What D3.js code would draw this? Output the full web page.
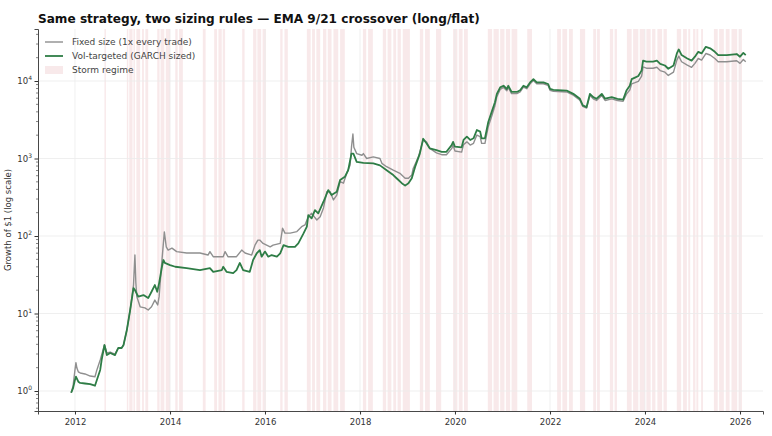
<!DOCTYPE html>
<html>
<head>
<meta charset="utf-8">
<script src="https://cdn.jsdelivr.net/npm/d3@7"></script>
<style>
  body { margin: 0; background: #fff; }
  svg { display: block; font-family: 'DejaVu Sans', sans-serif; }
</style>
</head>
<body>
<svg id="chart" width="772" height="436"></svg>
<script>
// decimal-year dates + growth of $1
const fixedDates = [2011.92, 2011.96, 2012.0, 2012.02, 2012.04, 2012.07, 2012.11, 2012.21, 2012.32, 2012.42, 2012.46, 2012.53, 2012.58, 2012.62, 2012.67, 2012.74, 2012.84, 2012.91, 2012.98, 2013.02, 2013.09, 2013.16, 2013.23, 2013.26, 2013.28, 2013.3, 2013.37, 2013.47, 2013.54, 2013.61, 2013.68, 2013.74, 2013.77, 2013.83, 2013.88, 2013.92, 2013.96, 2014.04, 2014.14, 2014.35, 2014.63, 2014.8, 2014.84, 2014.91, 2015.12, 2015.16, 2015.22, 2015.4, 2015.51, 2015.58, 2015.72, 2015.79, 2015.85, 2015.89, 2015.96, 2016.11, 2016.17, 2016.32, 2016.37, 2016.42, 2016.53, 2016.67, 2016.77, 2016.84, 2016.91, 2016.98, 2017.09, 2017.16, 2017.23, 2017.3, 2017.37, 2017.44, 2017.51, 2017.58, 2017.65, 2017.72, 2017.79, 2017.82, 2017.85, 2017.87, 2017.93, 2018.04, 2018.07, 2018.14, 2018.28, 2018.42, 2018.46, 2018.56, 2018.7, 2018.84, 2018.95, 2019.02, 2019.09, 2019.12, 2019.23, 2019.33, 2019.4, 2019.47, 2019.61, 2019.72, 2019.82, 2019.93, 2019.96, 2020.0, 2020.14, 2020.18, 2020.25, 2020.32, 2020.39, 2020.46, 2020.53, 2020.56, 2020.63, 2020.7, 2020.77, 2020.84, 2020.88, 2020.95, 2021.02, 2021.09, 2021.12, 2021.19, 2021.3, 2021.37, 2021.44, 2021.51, 2021.58, 2021.65, 2021.72, 2021.86, 2021.96, 2022.0, 2022.07, 2022.35, 2022.49, 2022.63, 2022.69, 2022.77, 2022.84, 2022.91, 2022.98, 2023.09, 2023.16, 2023.3, 2023.42, 2023.54, 2023.61, 2023.68, 2023.72, 2023.79, 2023.86, 2023.93, 2023.96, 2024.03, 2024.17, 2024.25, 2024.32, 2024.42, 2024.49, 2024.6, 2024.67, 2024.71, 2024.77, 2024.88, 2024.98, 2025.05, 2025.12, 2025.19, 2025.28, 2025.37, 2025.47, 2025.54, 2025.72, 2025.93, 2026.0, 2026.07, 2026.12]
const fixedValues = [0.95, 1.16, 1.87, 2.32, 1.98, 1.77, 1.71, 1.66, 1.56, 1.53, 1.87, 2.51, 3.21, 3.92, 3.09, 3.18, 3.0, 3.59, 3.59, 3.92, 6.12, 11.1, 23.3, 56.8, 24.7, 16.5, 12.2, 11.8, 11.1, 12.2, 14.9, 12.9, 16.5, 49.0, 113, 72.6, 65.8, 69.8, 62.9, 60.3, 60.3, 56.8, 62.9, 54.1, 54.1, 62.9, 54.1, 54.1, 65.8, 60.3, 56.8, 76.3, 88.5, 88.5, 80.2, 72.6, 76.3, 80.2, 126, 109, 109, 114, 132, 139, 177, 196, 161, 177, 230, 372, 372, 292, 338, 502, 480, 644, 819, 1400, 2070, 1400, 1157, 1102, 1157, 1000, 1050, 1000, 866, 784, 706, 644, 556, 556, 612, 745, 1050, 1735, 1640, 1350, 1180, 1120, 1120, 1340, 1480, 1250, 1210, 1510, 1640, 1490, 1570, 2010, 1910, 1570, 1570, 2580, 3490, 4800, 6270, 7770, 8260, 7500, 8260, 6870, 6870, 7220, 8340, 7950, 9210, 10160, 9210, 9210, 8780, 7580, 7370, 7230, 6560, 5660, 4700, 4470, 6490, 5890, 5610, 6490, 5610, 5890, 5600, 5470, 6780, 7650, 9190, 9520, 9890, 11530, 15230, 14630, 14630, 15050, 13650, 13010, 11810, 13010, 18620, 20950, 17730, 16130, 15050, 16890, 19520, 18620, 22630, 21650, 19520, 17730, 17730, 18290, 16890, 18940, 17730]

const volDates = [2011.92, 2011.96, 2012.0, 2012.02, 2012.07, 2012.11, 2012.21, 2012.32, 2012.42, 2012.46, 2012.53, 2012.56, 2012.6, 2012.62, 2012.67, 2012.74, 2012.84, 2012.91, 2012.98, 2013.02, 2013.09, 2013.16, 2013.23, 2013.26, 2013.33, 2013.44, 2013.54, 2013.61, 2013.68, 2013.73, 2013.77, 2013.83, 2013.86, 2013.89, 2014.0, 2014.11, 2014.35, 2014.63, 2014.84, 2014.91, 2015.09, 2015.12, 2015.19, 2015.33, 2015.4, 2015.47, 2015.54, 2015.68, 2015.75, 2015.83, 2015.89, 2015.93, 2016.0, 2016.07, 2016.14, 2016.25, 2016.32, 2016.39, 2016.49, 2016.63, 2016.7, 2016.81, 2016.88, 2016.91, 2016.98, 2017.05, 2017.12, 2017.23, 2017.33, 2017.4, 2017.51, 2017.58, 2017.68, 2017.75, 2017.82, 2017.86, 2017.93, 2018.07, 2018.28, 2018.42, 2018.56, 2018.7, 2018.77, 2018.88, 2018.95, 2019.02, 2019.09, 2019.16, 2019.26, 2019.33, 2019.4, 2019.47, 2019.61, 2019.72, 2019.82, 2019.93, 2019.96, 2020.0, 2020.14, 2020.18, 2020.25, 2020.32, 2020.39, 2020.46, 2020.53, 2020.56, 2020.63, 2020.7, 2020.77, 2020.84, 2020.88, 2020.95, 2021.02, 2021.09, 2021.12, 2021.19, 2021.3, 2021.37, 2021.44, 2021.51, 2021.58, 2021.65, 2021.72, 2021.86, 2021.96, 2022.0, 2022.07, 2022.35, 2022.49, 2022.63, 2022.69, 2022.77, 2022.84, 2022.91, 2022.98, 2023.09, 2023.16, 2023.3, 2023.42, 2023.54, 2023.61, 2023.68, 2023.72, 2023.79, 2023.86, 2023.93, 2023.96, 2024.03, 2024.17, 2024.25, 2024.32, 2024.42, 2024.49, 2024.6, 2024.67, 2024.71, 2024.77, 2024.88, 2024.98, 2025.05, 2025.12, 2025.19, 2025.28, 2025.37, 2025.47, 2025.54, 2025.72, 2025.93, 2026.0, 2026.07, 2026.12]
const volValues = [0.95, 1.09, 1.39, 1.53, 1.32, 1.27, 1.25, 1.23, 1.17, 1.39, 1.87, 2.51, 3.38, 3.92, 2.91, 3.09, 2.91, 3.59, 3.59, 3.92, 6.12, 11.1, 21.3, 20.1, 16.5, 17.3, 15.8, 19.1, 23.3, 19.1, 24.7, 40.1, 49.0, 44.9, 42.2, 40.1, 38.6, 36.3, 38.6, 34.5, 36.3, 40.1, 34.5, 33.2, 36.3, 44.9, 36.3, 34.5, 49.0, 60.3, 65.8, 54.1, 62.9, 54.1, 56.8, 54.1, 59.7, 76.3, 72.6, 72.6, 80.2, 108, 132, 186, 169, 216, 196, 277, 391, 338, 372, 527, 580, 706, 1157, 1157, 905, 880, 864, 815, 706, 612, 556, 480, 447, 480, 556, 780, 1157, 1797, 1570, 1350, 1284, 1221, 1221, 1490, 1640, 1420, 1395, 1735, 1911, 1735, 1823, 2333, 2220, 1823, 1823, 2960, 3970, 5330, 6820, 8270, 8690, 7890, 8690, 7230, 7230, 7600, 8690, 8280, 9590, 10580, 9590, 9590, 9150, 7900, 7680, 7530, 6830, 5900, 4850, 4610, 6830, 6200, 5910, 6830, 5910, 6200, 5900, 5760, 7530, 8690, 10560, 11070, 11630, 13730, 18350, 17840, 17840, 18350, 16650, 15860, 14400, 15860, 22710, 25550, 21620, 19670, 18350, 20600, 23800, 22710, 27600, 26400, 23800, 21620, 21620, 22300, 20600, 23100, 21620]

// storm regime spans, [start, end] in decimal years
const stormBands = [
  [2012.62, 2012.65],
  [2013.09, 2013.12], [2013.14, 2013.21], [2013.23, 2013.26], [2013.29, 2013.37],
  [2013.41, 2013.45], [2013.48, 2013.54],
  [2013.73, 2013.78], [2013.8, 2013.88], [2013.91, 2014.0],
  [2014.11, 2014.16], [2014.19, 2014.27],
  [2014.69, 2014.75],
  [2014.93, 2014.99], [2015.02, 2015.09], [2015.11, 2015.16],
  [2015.52, 2015.57],
  [2015.75, 2015.82], [2015.84, 2015.92], [2015.95, 2016.02],
  [2016.32, 2016.37], [2016.41, 2016.48],
  [2016.88, 2016.96], [2016.99, 2017.05], [2017.08, 2017.16],
  [2017.22, 2017.29], [2017.32, 2017.4], [2017.44, 2017.54],
  [2017.58, 2017.68],
  [2018.06, 2018.13], [2018.17, 2018.27],
  [2018.48, 2018.55], [2018.58, 2018.66], [2018.7, 2018.76], [2018.79, 2018.86], [2018.9, 2019.05],
  [2019.26, 2019.33], [2019.37, 2019.47],
  [2019.6, 2019.71],
  [2019.96, 2020.05], [2020.08, 2020.16], [2020.19, 2020.27],
  [2020.69, 2020.78], [2020.81, 2020.92], [2020.95, 2021.04], [2021.07, 2021.16], [2021.19, 2021.31],
  [2021.52, 2021.62],
  [2022.15, 2022.23], [2022.26, 2022.36], [2022.4, 2022.48],
  [2022.63, 2022.74],
  [2022.91, 2022.97], [2022.99, 2023.05],
  [2023.26, 2023.33], [2023.36, 2023.41],
  [2023.62, 2023.72], [2023.75, 2023.86], [2023.89, 2024.0], [2024.03, 2024.12], [2024.15, 2024.22], [2024.26, 2024.36], [2024.39, 2024.46],
  [2024.67, 2024.76], [2024.8, 2024.88], [2024.91, 2024.95],
  [2025.01, 2025.06], [2025.08, 2025.12],
  [2025.18, 2025.22],
  [2025.45, 2025.53], [2025.56, 2025.66], [2025.7, 2025.78], [2025.82, 2025.94], [2025.97, 2026.04]
]

const yTicks = [1, 10, 100, 1000, 10000]
const seriesNames = ['Fixed size (1x every trade)', 'Vol-targeted (GARCH sized)']
const seriesColors = ['#8f8f8f', '#2e7d46']
const bandColor = '#e3a9af'
const bandOpacity = 0.26

const toDate = y => {
  const yr = Math.floor(y)
  const start = new Date(yr, 0, 1)
  const end = new Date(yr + 1, 0, 1)
  return new Date(+start + (y - yr) * (end - start))
}

const margins = { left: 38, right: 9, top: 29, bottom: 25 }
const svg = d3.select('#chart')
const W = +svg.attr('width')
const H = +svg.attr('height')
const width = W - margins.left - margins.right
const height = H - margins.top - margins.bottom

const x = d3.scaleTime()
  .domain([toDate(2011.221), toDate(2026.484)])
  .range([0, width])
const y = d3.scaleLog()
  .domain([0.552, 46900])
  .range([height, 0])

const g = svg.append('g')
  .attr('transform', `translate(${margins.left}, ${margins.top})`)

// storm bands
g.append('g')
  .selectAll('rect')
  .data(stormBands)
  .join('rect')
  .attr('x', d => x(toDate(d[0])))
  .attr('width', d => Math.max(1, x(toDate(d[1])) - x(toDate(d[0]))))
  .attr('y', 0)
  .attr('height', height)
  .attr('fill', bandColor)
  .attr('opacity', bandOpacity)

// grid
const xTicks = d3.timeYear.every(2).range(toDate(2012), toDate(2027))
g.append('g')
  .selectAll('line')
  .data(xTicks)
  .join('line')
  .attr('x1', d => x(d)).attr('x2', d => x(d))
  .attr('y1', 0).attr('y2', height)
  .attr('stroke', '#ebebeb').attr('stroke-width', 0.8)
g.append('g')
  .selectAll('line')
  .data(yTicks)
  .join('line')
  .attr('x1', 0).attr('x2', width)
  .attr('y1', d => y(d)).attr('y2', d => y(d))
  .attr('stroke', '#ebebeb').attr('stroke-width', 0.8)

// lines
const line = d3.line()
  .x(d => x(toDate(d[0])))
  .y(d => y(d[1]))
const series = [
  d3.zip(fixedDates, fixedValues),
  d3.zip(volDates, volValues)
]
series.forEach((s, i) => {
  g.append('path')
    .datum(s)
    .attr('d', line)
    .attr('fill', 'none')
    .attr('stroke', seriesColors[i])
    .attr('stroke-width', i === 0 ? 1.4 : 1.8)
    .attr('stroke-linejoin', 'round')
})

// axes
const xAxis = g.append('g')
  .attr('transform', `translate(0, ${height})`)
  .call(d3.axisBottom(x).tickValues(xTicks).tickFormat(d3.timeFormat('%Y')).tickSizeOuter(0).tickSize(3.5))
xAxis.select('.domain').attr('stroke', '#333').attr('stroke-width', 0.9)
xAxis.selectAll('.tick line').attr('stroke', '#333')
xAxis.selectAll('text')
  .attr('font-family', 'DejaVu Sans').attr('font-size', 8.5).attr('fill', '#333').attr('dy', '0.9em')

const minor = []
for (let e = -1; e < 5; e++) {
  for (let k = 2; k < 10; k++) {
    const v = k * Math.pow(10, e)
    if (v >= 0.552 && v <= 46900) minor.push(v)
  }
}
const yAxis = g.append('g')
  .call(d3.axisLeft(y).tickValues(yTicks).tickFormat('').tickSizeOuter(0).tickSize(3.5))
yAxis.select('.domain').attr('stroke', '#333').attr('stroke-width', 0.9)
yAxis.selectAll('.tick line').attr('stroke', '#333')
yAxis.append('g')
  .selectAll('line')
  .data(minor)
  .join('line')
  .attr('x1', -2).attr('x2', 0)
  .attr('y1', d => y(d)).attr('y2', d => y(d))
  .attr('stroke', '#333').attr('stroke-width', 0.6)

const yLabels = g.append('g')
  .selectAll('text')
  .data(yTicks)
  .join('text')
  .attr('x', -6)
  .attr('y', d => y(d) + 3)
  .attr('text-anchor', 'end')
  .attr('font-size', 8.5)
  .attr('fill', '#333')
yLabels.append('tspan').text('10')
yLabels.append('tspan')
  .attr('dy', -4)
  .attr('font-size', 6)
  .text(d => Math.round(Math.log10(d)))

// y label
svg.append('text')
  .attr('transform', `translate(11, ${margins.top + height / 2}) rotate(-90)`)
  .attr('text-anchor', 'middle')
  .attr('font-size', 8.5)
  .attr('fill', '#333')
  .text('Growth of $1 (log scale)')

// title
svg.append('text')
  .attr('x', margins.left)
  .attr('y', 23)
  .attr('font-weight', 'bold')
  .attr('font-size', 12.1)
  .attr('fill', '#111')
  .text('Same strategy, two sizing rules — EMA 9/21 crossover (long/flat)')

// legend
const legend = g.append('g').attr('transform', 'translate(7, 13)')
seriesNames.forEach((name, i) => {
  const row = legend.append('g').attr('transform', `translate(0, ${i * 14})`)
  row.append('line')
    .attr('x1', 0).attr('x2', 18)
    .attr('stroke', seriesColors[i])
    .attr('stroke-width', i === 0 ? 1.4 : 1.8)
  row.append('text')
    .attr('x', 27).attr('y', 3)
    .attr('font-size', 9).attr('fill', '#444')
    .text(name)
})
const stormRow = legend.append('g').attr('transform', 'translate(0, 28)')
stormRow.append('rect')
  .attr('x', 0).attr('y', -4).attr('width', 18).attr('height', 8)
  .attr('fill', bandColor).attr('opacity', bandOpacity)
stormRow.append('text')
  .attr('x', 27).attr('y', 3)
  .attr('font-size', 9).attr('fill', '#444')
  .text('Storm regime')
</script>
</body>
</html>
